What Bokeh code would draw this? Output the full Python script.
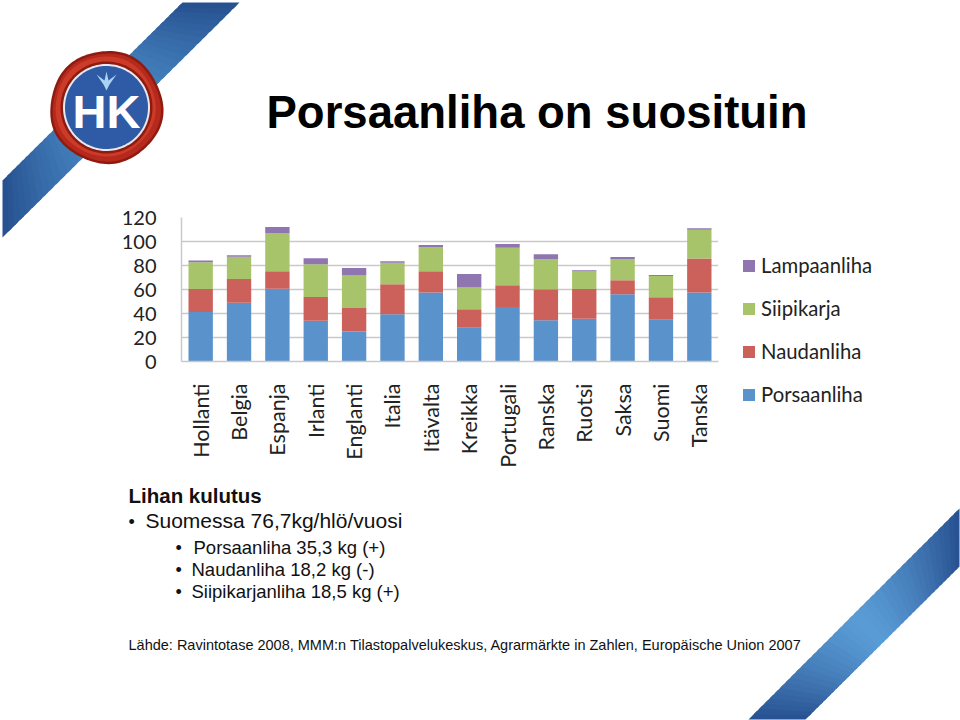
import numpy as np
from bokeh.embed import file_html
from bokeh.models import ColumnDataSource, FactorRange, Label, Legend, LegendItem, Range1d, FixedTicker
from bokeh.plotting import figure
from bokeh.resources import INLINE

categories = ["Hollanti", "Belgia", "Espanja", "Irlanti", "Englanti", "Italia", "Itävalta",
              "Kreikka", "Portugali", "Ranska", "Ruotsi", "Saksa", "Suomi", "Tanska"]
porsaanliha = [41.2, 49.0, 60.7, 34.0, 25.0, 39.3, 57.4, 28.1, 45.4, 34.3, 35.7, 56.0, 34.8, 57.4]
naudanliha = [19.2, 19.8, 14.5, 19.8, 19.6, 25.0, 17.8, 15.4, 18.1, 25.9, 24.7, 11.7, 18.7, 28.4]
siipikarja = [22.3, 18.4, 31.8, 27.2, 27.0, 17.9, 20.3, 18.1, 31.2, 25.3, 14.6, 17.8, 17.8, 23.9]
lampaanliha = [1.4, 1.4, 5.0, 5.0, 6.4, 1.4, 1.5, 11.4, 3.3, 3.9, 1.0, 1.5, 0.7, 1.3]
series_names = ["Porsaanliha", "Naudanliha", "Siipikarja", "Lampaanliha"]
series_colors = ["#5a92cb", "#cc615b", "#a8c46a", "#9076b0"]
y_ticks = [0, 20, 40, 60, 80, 100, 120]

W, H = 960, 720
LEFT, RIGHT, TOP, BOTTOM = 181, 718, 217, 361

# ---- page layer: decoration, texts and legend, on a pixel-sized frame
bg = figure(width=W, height=H, x_range=Range1d(0, W), y_range=Range1d(H, 0), output_backend="svg",
            toolbar_location=None, min_border=0, outline_line_color=None)
bg.xaxis.visible = False
bg.yaxis.visible = False
bg.grid.visible = False


def mix(a, b, t):
    a = np.array([int(a[i:i + 2], 16) for i in (1, 3, 5)])
    b = np.array([int(b[i:i + 2], 16) for i in (1, 3, 5)])
    return "#%02x%02x%02x" % tuple((a + (b - a) * t).astype(int))


def ribbon(a0, b0, a1, b1, dark, light, n=40):
    a0, b0, a1, b1 = map(np.array, (a0, b0, a1, b1))
    for i in range(n):
        t0, t1 = i / n, min(1, (i + 1.6) / n)
        pts = [a0 + (a1 - a0) * t0, a0 + (a1 - a0) * t1, b0 + (b1 - b0) * t1, b0 + (b1 - b0) * t0]
        m = (i + 0.5) / n
        bg.patch([q[0] for q in pts], [q[1] for q in pts], color=mix(dark, light, 1 - abs(2 * m - 1) ** 1.3), line_color=None)


ribbon((2, 180), (2, 237), (182, 2), (239, 2), "#27508f", "#4a8cc8")
ribbon((748, 719), (805, 719), (959, 508), (959, 566), "#27508f", "#5a9cd6")


def blob(cx, cy, r, color, wob=0.0):
    a = np.linspace(0, 2 * np.pi, 120)
    rr = r * (1 + wob * np.sin(5 * a + 0.7) + wob * 0.6 * np.sin(3 * a))
    bg.patch(cx + rr * np.cos(a), cy + rr * np.sin(a), color=color, line_color=None)


cx, cy = 106, 107
blob(cx, cy, 56.5, "#8e1a10", 0.012)
blob(cx, cy, 54, "#b52a1c", 0.012)
blob(cx - 1, cy - 1, 50, "#cc3a28", 0.008)
blob(cx, cy, 46, "#8e1a10")
blob(cx, cy, 43.5, "#e8e8ee")
blob(cx, cy, 41.5, "#2f5aa6")
bg.patch([96, 104, 106, 108, 116, 109, 106, 103], [74, 80, 71, 80, 74, 84, 90, 84], color="#a9d3ee", line_color=None)


def text(x, y, s, size, font="Liberation Sans", style="normal", color="#111111", align="left"):
    # the label sits about 0.36 em below its anchor in this renderer
    bg.add_layout(Label(x=x, y=y - 0.36 * size, text=s, text_font=font, text_font_size=f"{size}px",
                        text_font_style=style, text_color=color, text_align=align, text_baseline="alphabetic"))


text(cx, 128, "HK", 47, "Liberation Sans", "bold", "white", "center")
text(266, 128, "Porsaanliha on suosituin", 45.5, style="bold", color="#000000")
text(128, 502, "Lihan kulutus", 20.5, style="bold")
text(128, 528, "•", 18)
text(145, 528, "Suomessa 76,7kg/hlö/vuosi", 21)
text(175, 554, "•", 18)
text(193, 554, "Porsaanliha 35,3 kg (+)", 18.5)
text(175, 576, "•", 18)
text(191, 576, "Naudanliha 18,2 kg (-)", 18.5)
text(175, 598, "•", 18)
text(191, 598, "Siipikarjanliha 18,5 kg (+)", 18.5)
text(128, 650, "Lähde: Ravintotase 2008, MMM:n Tilastopalvelukeskus, Agrarmärkte in Zahlen, Europäische Union 2007", 14.5)

# one off-page swatch per series, so that the legend has a glyph to show
swatches = [bg.quad(left=[-20], right=[-10], top=[-20], bottom=[-10], color=c, line_color=None) for c in series_colors]
items = [LegendItem(label=n, renderers=[r]) for n, r in zip(series_names, swatches)][::-1]
legend = Legend(items=items, location=(741, H - 406), orientation="vertical",
                glyph_width=15, glyph_height=15, label_standoff=5, label_height=20, spacing=19,
                margin=0, padding=0, background_fill_alpha=0, border_line_color=None,
                label_text_font="Lato", label_text_font_size="20.3px", label_text_color="#222222")
bg.add_layout(legend, "center")

# ---- chart layer, laid over the page layer
p = figure(width=W, height=H, x_range=FactorRange(factors=categories, range_padding=0),
           y_range=Range1d(0, 120), output_backend="svg", toolbar_location=None,
           min_border_left=LEFT, min_border_right=W - RIGHT, min_border_top=TOP, min_border_bottom=H - BOTTOM,
           background_fill_alpha=0, border_fill_alpha=0, outline_line_color=None)
p.margin = (-H, 0, 0, 0)
p.xgrid.visible = False
p.ygrid.grid_line_color = "#c9c9c9"
p.ygrid.grid_line_width = 1.5
p.ygrid.ticker = FixedTicker(ticks=y_ticks)
p.yaxis.ticker = FixedTicker(ticks=y_ticks)
p.yaxis.axis_line_color = "#c9c9c9"
p.yaxis.axis_line_width = 1.5
p.yaxis.major_tick_line_color = None
p.yaxis.minor_tick_line_color = None
p.yaxis.major_label_text_font = "Lato"
p.yaxis.major_label_text_font_size = "20px"
p.yaxis.major_label_text_color = "#222222"
p.yaxis.major_label_standoff = 19
p.xaxis.axis_line_color = "#c9c9c9"
p.xaxis.axis_line_width = 1.5
p.xaxis.major_tick_line_color = None
p.xaxis.minor_tick_line_color = None
p.xaxis.major_label_orientation = np.pi / 2
p.xaxis.major_label_text_font = "Lato"
p.xaxis.major_label_text_font_size = "21.5px"
p.xaxis.major_label_text_color = "#222222"
p.xaxis.major_label_standoff = 16

source = ColumnDataSource(dict(x=categories, Porsaanliha=porsaanliha, Naudanliha=naudanliha,
                               Siipikarja=siipikarja, Lampaanliha=lampaanliha))
p.vbar_stack(series_names, x="x", width=0.635, color=series_colors, line_color=None, source=source)

open("out.html", "w").write(file_html([bg, p], INLINE))
